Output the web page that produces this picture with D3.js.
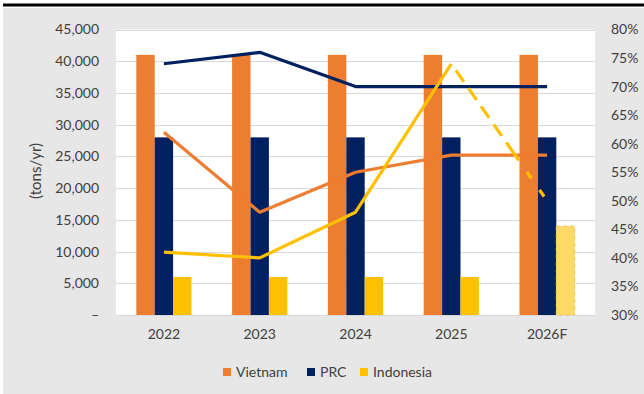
<!DOCTYPE html>
<html>
<head>
<meta charset="utf-8">
<script src="https://cdn.jsdelivr.net/npm/d3@7"></script>
<style>
  body { margin: 0; background: #fff; }
  text { font-family: Lato, "Open Sans", sans-serif; fill: #404040; }
</style>
</head>
<body>
<script>
// data
var years = ['2022', '2023', '2024', '2025', '2026F'];
var series = ['Vietnam', 'PRC', 'Indonesia'];
var vietnamTons = [41000, 41000, 41000, 41000, 41000];
var prcTons = [28000, 28000, 28000, 28000, 28000];
var indonesiaTons = [6000, 6000, 6000, 6000, 14000];
var vietnamPct = [62, 48, 55, 58, 58];
var prcPct = [74, 76, 70, 70, 70];
var indonesiaPct = [41, 40, 48, 74, 50];
var leftTicks = [0, 5000, 10000, 15000, 20000, 25000, 30000, 35000, 40000, 45000];
var rightTicks = [30, 35, 40, 45, 50, 55, 60, 65, 70, 75, 80];

var colors = {Vietnam: '#ED7D31', PRC: '#002060', Indonesia: '#FFC000'};

var W = 644, H = 394;
var plot = {left: 116, right: 595, top: 29.5, bottom: 315};

var svg = d3.select('body').append('svg')
  .attr('width', W)
  .attr('height', H);

// frame: black rule on top, grey panel
svg.append('rect').attr('x', 3).attr('y', 8).attr('width', W - 3).attr('height', H - 8)
  .attr('fill', '#e7e7e7');
svg.append('rect').attr('x', 3).attr('y', 3.5).attr('width', W - 3).attr('height', 3)
  .attr('fill', '#000');
svg.append('rect')
  .attr('x', plot.left).attr('y', plot.top)
  .attr('width', plot.right - plot.left).attr('height', plot.bottom - plot.top)
  .attr('fill', '#fff');

var x0 = d3.scaleBand().domain(years).range([plot.left, plot.right]).padding(0);
var x1 = d3.scaleBand().domain(series).range([-27.6, 27.6]).padding(0);
var yL = d3.scaleLinear().domain([0, 45000]).range([plot.bottom, plot.top]);
var yR = d3.scaleLinear().domain([30, 80]).range([plot.bottom, plot.top]);
var cx = function(yr) { return x0(yr) + x0.bandwidth() / 2; };

// gridlines
svg.append('g').selectAll('line')
  .data(leftTicks)
  .enter().append('line')
  .attr('x1', plot.left).attr('x2', plot.right)
  .attr('y1', function(d) { return Math.round(yL(d)) + 0.5; })
  .attr('y2', function(d) { return Math.round(yL(d)) + 0.5; })
  .attr('stroke', '#d9d9d9')
  .attr('stroke-width', 1);

// left axis
var leftAxis = svg.append('g')
  .attr('transform', 'translate(' + (plot.left - 17) + ',0)')
  .call(d3.axisLeft(yL).tickValues(leftTicks).tickSize(0).tickPadding(0)
    .tickFormat(function(d) { return d === 0 ? '\u2013' : d3.format(',')(d); }));
leftAxis.select('.domain').remove();
leftAxis.selectAll('text').style('font-size', '14px').attr('fill', '#404040');

// right axis
var rightAxis = svg.append('g')
  .attr('transform', 'translate(' + (plot.right + 16) + ',0)')
  .call(d3.axisRight(yR).tickValues(rightTicks).tickSize(0).tickPadding(0)
    .tickFormat(function(d) { return d + '%'; }));
rightAxis.select('.domain').remove();
rightAxis.selectAll('text').style('font-size', '14px').attr('fill', '#404040');

// category axis
var bottomAxis = svg.append('g')
  .attr('transform', 'translate(0,' + (plot.bottom + 14) + ')')
  .call(d3.axisBottom(x0).tickSize(0).tickPadding(0));
bottomAxis.select('.domain').remove();
bottomAxis.selectAll('text').style('font-size', '14px').attr('fill', '#404040');

// axis title
svg.append('text')
  .attr('transform', 'translate(41,171) rotate(-90)')
  .attr('text-anchor', 'middle')
  .style('font-size', '15px')
  .text('(tons/yr)');

// bars
var barRows = [];
years.forEach(function(yr, i) {
  barRows.push({year: yr, s: 'Vietnam', v: vietnamTons[i], forecast: false});
  barRows.push({year: yr, s: 'PRC', v: prcTons[i], forecast: false});
  barRows.push({year: yr, s: 'Indonesia', v: indonesiaTons[i], forecast: yr === '2026F'});
});

svg.append('g').selectAll('rect')
  .data(barRows)
  .enter().append('rect')
  .attr('x', function(d) { return cx(d.year) + x1(d.s); })
  .attr('width', x1.bandwidth())
  .attr('y', function(d) { return yL(d.v); })
  .attr('height', function(d) { return plot.bottom - yL(d.v); })
  .attr('fill', function(d) { return d.forecast ? '#FFD966' : colors[d.s]; })
  .attr('stroke', function(d) { return d.forecast ? '#F2C14E' : 'none'; })
  .attr('stroke-width', 1)
  .attr('stroke-dasharray', '4,3');

// lines on the right axis
var line = d3.line()
  .x(function(d) { return cx(d.year); })
  .y(function(d) { return yR(d.v); });

function pts(arr) {
  return arr.map(function(v, i) { return {year: years[i], v: v}; });
}

var lineG = svg.append('g').attr('fill', 'none').attr('stroke-width', 3.2)
  .attr('stroke-linejoin', 'round');

lineG.append('path')
  .datum(pts(prcPct))
  .attr('d', line)
  .attr('stroke', colors.PRC);

lineG.append('path')
  .datum(pts(vietnamPct))
  .attr('d', line)
  .attr('stroke', colors.Vietnam);

var indo = pts(indonesiaPct);
lineG.append('path')
  .datum(indo.slice(0, 4))
  .attr('d', line)
  .attr('stroke', colors.Indonesia);
lineG.append('path')
  .datum(indo.slice(3))
  .attr('d', line)
  .attr('stroke', colors.Indonesia)
  .attr('stroke-dasharray', '0,8,14,8,14,8,14,8,14,8,14');

// legend
var legendItems = [
  {s: 'Vietnam', x: 223},
  {s: 'PRC', x: 307},
  {s: 'Indonesia', x: 360}
];
var legend = svg.append('g');
legend.selectAll('rect')
  .data(legendItems)
  .enter().append('rect')
  .attr('x', function(d) { return d.x; })
  .attr('y', 368)
  .attr('width', 8).attr('height', 8)
  .attr('fill', function(d) { return colors[d.s]; });
legend.selectAll('text')
  .data(legendItems)
  .enter().append('text')
  .attr('x', function(d) { return d.x + 13; })
  .attr('y', 377)
  .style('font-size', '14px')
  .text(function(d) { return d.s; });
</script>
</body>
</html>
